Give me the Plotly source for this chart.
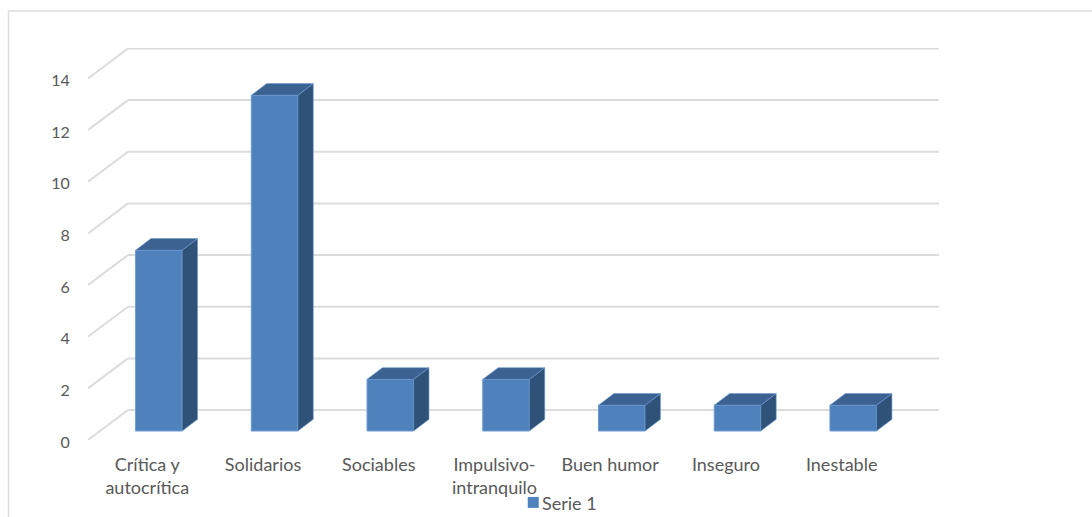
import plotly.graph_objects as go

categories = ["Crítica y<br>autocrítica", "Solidarios", "Sociables", "Impulsivo-<br>intranquilo",
              "Buen humor", "Inseguro", "Inestable"]
values = [7, 13, 2, 2, 1, 1, 1]
y_ticks = [0, 2, 4, 6, 8, 10, 12, 14]
series_name = "Serie 1"

W, H = 1092, 517
L, R, T, B = 88, 939.5, 47.5, 440
PX_X, PX_Y = 115.8, 25.86
x0_range = -(147.3 - L) / PX_X
x1_range = (R - 147.3) / PX_X
y1_range = (B - T) / PX_Y

wall_dx, wall_dy = 40 / PX_X, 30 / PX_Y
bar_shift, bar_base = 11.6 / PX_X, 9 / PX_Y
bar_w = 46.6 / PX_X
depth_dx, depth_dy = 15.4 / PX_X, 11.7 / PX_Y

GRID = "#dcdcdc"
FRONT, SIDE, TOP, EDGE = "#4f81bd", "#2f5279", "#3b6291", "#6d9bd1"
TEXT = "#595959"
FONT = "Lato"

idx = list(range(len(categories)))
fig = go.Figure()

fig.add_trace(go.Bar(
    x=[i + bar_shift for i in idx], y=values, base=bar_base, width=bar_w,
    name=series_name, marker=dict(color=FRONT, line=dict(color=EDGE, width=1)),
    showlegend=False, hoverinfo="skip"))

side_x, side_y, top_x, top_y = [], [], [], []
for i, v in zip(idx, values):
    xl = i + bar_shift - bar_w / 2
    xr = i + bar_shift + bar_w / 2
    b, t = bar_base, bar_base + v
    side_x += [xr, xr + depth_dx, xr + depth_dx, xr, xr, None]
    side_y += [b, b + depth_dy, t + depth_dy, t, b, None]
    top_x += [xl, xl + depth_dx, xr + depth_dx, xr, xl, None]
    top_y += [t, t + depth_dy, t + depth_dy, t, t, None]

for xs, ys, c in ((side_x, side_y, SIDE), (top_x, top_y, TOP)):
    fig.add_trace(go.Scatter(x=xs, y=ys, mode="lines", fill="toself", fillcolor=c,
                             line=dict(color=EDGE, width=0.6), showlegend=False,
                             hoverinfo="skip"))

shapes = []
for t in y_ticks:
    shapes.append(dict(type="line", layer="below", xref="x", yref="y",
                       x0=x0_range, y0=t, x1=x0_range + wall_dx, y1=t + wall_dy,
                       line=dict(color=GRID, width=2)))
    shapes.append(dict(type="line", layer="below", xref="x", yref="y",
                       x0=x0_range + wall_dx, y0=t + wall_dy, x1=x1_range, y1=t + wall_dy,
                       line=dict(color=GRID, width=2)))
pw, ph = R - L, B - T
shapes.append(dict(type="rect", layer="below", xref="paper", yref="paper",
                   x0=(8.5 - L) / pw, x1=(W + 5 - L) / pw,
                   y0=(B - (H + 5)) / ph, y1=(B - 10.5) / ph,
                   line=dict(color=GRID, width=1.5), fillcolor="rgba(0,0,0,0)"))
# legend key
shapes.append(dict(type="rect", xref="paper", yref="paper",
                   x0=(528 - L) / pw, x1=(539 - L) / pw,
                   y0=(B - 508) / ph, y1=(B - 497) / ph,
                   line=dict(width=0), fillcolor=FRONT))

fig.update_layout(
    width=W, height=H, paper_bgcolor="white", plot_bgcolor="rgba(0,0,0,0)",
    margin=dict(l=L, r=W - R, t=T, b=H - B, pad=0, autoexpand=False),
    font=dict(family=FONT, size=18, color=TEXT),
    shapes=shapes,
    showlegend=False,
    annotations=[dict(text=series_name, xref="paper", yref="paper",
                      x=(542 - L) / pw, y=(B - 503) / ph, xanchor="left", yanchor="middle",
                      showarrow=False, font=dict(family=FONT, size=18, color=TEXT),
                      borderpad=0, borderwidth=0)],
    xaxis=dict(range=[x0_range, x1_range], tickmode="array", tickvals=idx, ticktext=categories,
               showgrid=False, zeroline=False, showline=False, ticks="outside", ticklen=8,
               tickcolor="rgba(0,0,0,0)", tickangle=0, tickfont=dict(size=18)),
    yaxis=dict(range=[0, y1_range], tickmode="array", tickvals=y_ticks,
               showgrid=False, zeroline=False, showline=False, ticks="outside", ticklen=14,
               tickcolor="rgba(0,0,0,0)", tickfont=dict(size=16), ticklabelshift=2),
)
fig.write_html("out.html", config=dict(displayModeBar=False),
               post_script="document.body.style.margin='0';document.body.style.overflow='hidden';")
